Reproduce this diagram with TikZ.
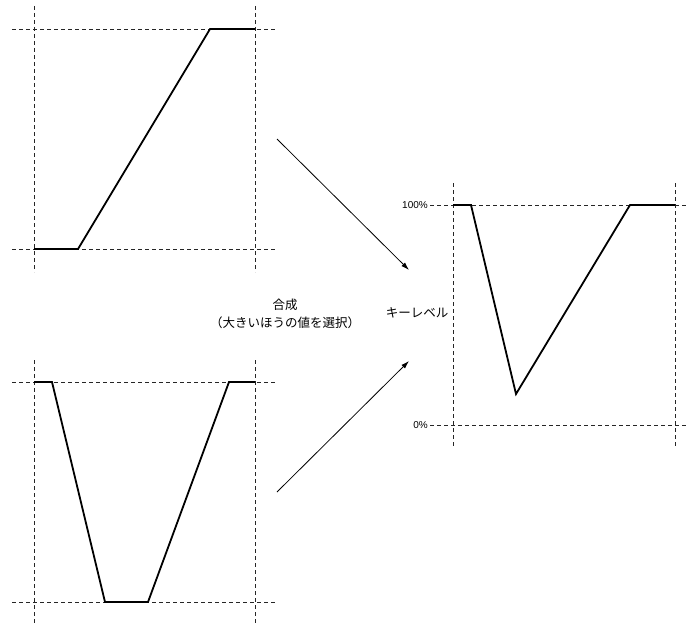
\documentclass[tikz,border=0pt]{standalone}
\usepackage{fontspec}
\setmainfont{Liberation Sans}
\newfontfamily\jpfont{Noto Sans CJK JP}
\usetikzlibrary{arrows.meta}
\tikzset{
  guide/.style={draw=black!85, line width=0.9pt, dash pattern=on 4pt off 3pt},
  curve/.style={draw=black, line width=1.8pt, line join=miter},
  flow/.style={draw=black, line width=0.8pt, -{Latex[length=8pt,width=5pt]}},
  jptext/.style={font=\jpfont\fontsize{12.5}{18}\selectfont, inner sep=0pt, align=center},
  pct/.style={font=\fontsize{10}{12}\selectfont, inner sep=0pt, anchor=east}
}
\begin{document}
\begin{tikzpicture}[x=1pt,y=-1pt]
\useasboundingbox (0,0) rectangle (687,623);
% ---- top-left chart ----
\draw[guide] (34,6) -- (34,272);
\draw[guide] (255,6) -- (255,272);
\draw[guide] (12,29) -- (277,29);
\draw[guide] (12,249) -- (277,249);
\draw[curve] (34,249) -- (78,249) -- (210,29) -- (255,29);
% ---- bottom-left chart ----
\draw[guide] (34,360) -- (34,623);
\draw[guide] (255,360) -- (255,623);
\draw[guide] (12,382) -- (277,382);
\draw[guide] (12,602) -- (277,602);
\draw[curve] (34,382) -- (52,382) -- (105,602) -- (148,602) -- (229,382) -- (255,382);
% ---- right chart ----
\draw[guide] (453,183) -- (453,447);
\draw[guide] (675,183) -- (675,447);
\draw[guide] (430,205) -- (687,205);
\draw[guide] (430,425) -- (687,425);
\draw[curve] (453,205) -- (471,205) -- (516,394) -- (630,205) -- (675,205);
\node[pct] (p100) at (428,205) {100\%};
\node[pct] (p0) at (428,425) {0\%};
% ---- labels ----
\node[jptext] (synth) at (285,314) {合成\\（大きいほうの値を選択）};
\node[jptext] (key) at (417,313) {キーレベル};
% ---- arrows ----
\coordinate (a1s) at (277,139);
\coordinate (a1e) at (409,270);
\coordinate (a2s) at (277,492);
\coordinate (a2e) at (409,361);
\draw[flow] (a1s) -- (a1e);
\draw[flow] (a2s) -- (a2e);
\end{tikzpicture}
\end{document}
